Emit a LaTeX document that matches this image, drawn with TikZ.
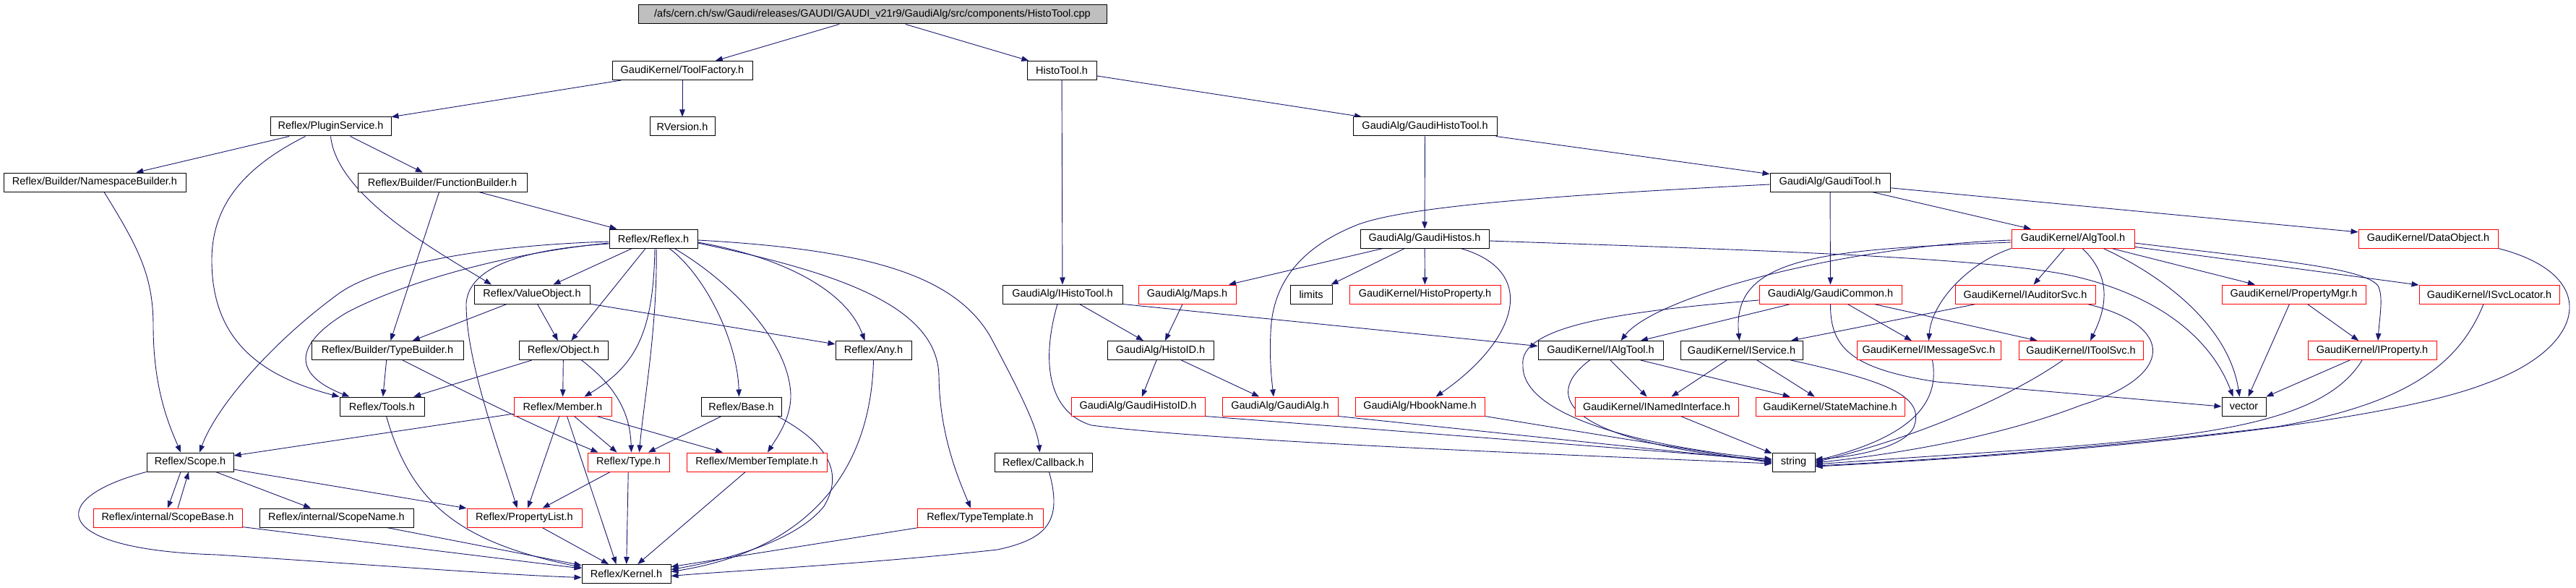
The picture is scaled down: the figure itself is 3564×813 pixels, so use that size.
\documentclass[tikz,border=0pt]{standalone}
\usepackage{fontspec}
\setmainfont{Liberation Sans}
\usetikzlibrary{arrows.meta,backgrounds}
\definecolor{eblue}{RGB}{25,25,112}
\definecolor{nred}{RGB}{255,0,0}
\definecolor{rootgray}{RGB}{191,191,191}
\tikzset{
  box/.style={draw=black, line width=1pt, fill=white, minimum height=26pt, inner sep=0pt, font=\fontsize{14.5}{16}\selectfont},
  rbox/.style={box, draw=nred},
  conn/.style={draw=eblue, line width=0.9pt, -{Triangle[length=10pt,width=7.5pt]}},
}
\begin{document}
\begin{tikzpicture}[x=1pt,y=-1pt]
\useasboundingbox (0,0) rectangle (3564,813);
% row 0
\node[box,minimum width=648,fill=rootgray] (root) at (1207,20) {/afs/cern.ch/sw/Gaudi/releases/GAUDI/GAUDI\_v21r9/GaudiAlg/src/components/HistoTool.cpp};
% row 1
\node[box,minimum width=194] (toolf) at (944,97.5) {GaudiKernel/ToolFactory.h};
\node[box,minimum width=96] (histotool) at (1469,97.5) {HistoTool.h};
% row 2
\node[box,minimum width=167] (plugin) at (457.5,175) {Reflex/PluginService.h};
\node[box,minimum width=90] (rversion) at (944,175) {RVersion.h};
\node[box,minimum width=199] (ghtool) at (1971.5,175) {GaudiAlg/GaudiHistoTool.h};
% row 3
\node[box,minimum width=252] (nsb) at (131,252) {Reflex/Builder/NamespaceBuilder.h};
\node[box,minimum width=234] (fb) at (612,252) {Reflex/Builder/FunctionBuilder.h};
\node[box,minimum width=166] (gtool) at (2532,252) {GaudiAlg/GaudiTool.h};
% row 4
\node[box,minimum width=122] (reflex) at (904,330) {Reflex/Reflex.h};
\node[box,minimum width=178] (ghistos) at (1971,330) {GaudiAlg/GaudiHistos.h};
\node[rbox,minimum width=170] (algtool) at (2868,330) {GaudiKernel/AlgTool.h};
\node[rbox,minimum width=193] (dataobj) at (3359.5,330) {GaudiKernel/DataObject.h};
% row 5
\node[box,minimum width=160] (valueobj) at (736,407) {Reflex/ValueObject.h};
\node[box,minimum width=166] (ihisto) at (1470,407) {GaudiAlg/IHistoTool.h};
\node[rbox,minimum width=135] (maps) at (1642.5,407) {GaudiAlg/Maps.h};
\node[box,minimum width=58] (limits) at (1814,407) {limits};
\node[rbox,minimum width=209] (histoprop) at (1971.5,407) {GaudiKernel/HistoProperty.h};
\node[rbox,minimum width=197] (gcommon) at (2532.5,407) {GaudiAlg/GaudiCommon.h};
\node[rbox,minimum width=194] (iauditor) at (2802,407) {GaudiKernel/IAuditorSvc.h};
\node[rbox,minimum width=199] (propmgr) at (3173.5,407) {GaudiKernel/PropertyMgr.h};
\node[rbox,minimum width=194] (isvcloc) at (3444,407) {GaudiKernel/ISvcLocator.h};
% row 6
\node[box,minimum width=210] (typebuilder) at (536,484.5) {Reflex/Builder/TypeBuilder.h};
\node[box,minimum width=123] (object) at (779.5,484.5) {Reflex/Object.h};
\node[box,minimum width=105] (any) at (1208.5,484.5) {Reflex/Any.h};
\node[box,minimum width=147] (histoid) at (1605.5,484.5) {GaudiAlg/HistoID.h};
\node[box,minimum width=173] (ialgtool) at (2214.5,484.5) {GaudiKernel/IAlgTool.h};
\node[box,minimum width=169] (iservice) at (2409.5,484.5) {GaudiKernel/IService.h};
\node[rbox,minimum width=199] (imsg) at (2668.5,484.5) {GaudiKernel/IMessageSvc.h};
\node[rbox,minimum width=172] (itoolsvc) at (2879,484.5) {GaudiKernel/IToolSvc.h};
\node[rbox,minimum width=178] (iprop) at (3282,484.5) {GaudiKernel/IProperty.h};
% row 7
\node[box,minimum width=117] (tools) at (528.5,562) {Reflex/Tools.h};
\node[rbox,minimum width=135] (member) at (778.5,562) {Reflex/Member.h};
\node[box,minimum width=111] (base) at (1025.5,562) {Reflex/Base.h};
\node[rbox,minimum width=185] (ghistoid) at (1574.5,562) {GaudiAlg/GaudiHistoID.h};
\node[rbox,minimum width=160] (galg) at (1771,562) {GaudiAlg/GaudiAlg.h};
\node[rbox,minimum width=179] (hbook) at (1964.5,562) {GaudiAlg/HbookName.h};
\node[rbox,minimum width=226] (inamed) at (2292,562) {GaudiKernel/INamedInterface.h};
\node[rbox,minimum width=206] (statem) at (2532,562) {GaudiKernel/StateMachine.h};
\node[box,minimum width=61] (vector) at (3104.5,562) {vector};
% row 8
\node[box,minimum width=120] (scope) at (263,639) {Reflex/Scope.h};
\node[rbox,minimum width=113] (type) at (869.5,639) {Reflex/Type.h};
\node[rbox,minimum width=194] (membertemp) at (1047,639) {Reflex/MemberTemplate.h};
\node[box,minimum width=135] (callback) at (1443.5,639) {Reflex/Callback.h};
\node[box,minimum width=59] (string) at (2481.5,639) {string};
% row 9
\node[rbox,minimum width=206] (scopebase) at (232,716) {Reflex/internal/ScopeBase.h};
\node[box,minimum width=213] (scopename) at (465.5,716) {Reflex/internal/ScopeName.h};
\node[rbox,minimum width=159] (proplist) at (725.5,716) {Reflex/PropertyList.h};
\node[rbox,minimum width=174] (typetemp) at (1356,716) {Reflex/TypeTemplate.h};
% row 10
\node[box,minimum width=123] (kernel) at (866.5,793.5) {Reflex/Kernel.h};

\begin{scope}[on background layer]
% ---- top
\draw[conn] (root) -- (toolf);
\draw[conn] (root) -- (histotool);
\draw[conn] (toolf) -- (plugin);
\draw[conn] (toolf) -- (rversion);
\draw[conn] (histotool) -- (ihisto);
\draw[conn] (histotool) -- (ghtool);
% ---- plugin service
\draw[conn] (plugin) -- (nsb);
\draw[conn] (plugin) -- (fb);
\draw[conn] (plugin.south) .. controls (466,270) and (600,345) .. ([xshift=-56pt]valueobj.north);
\draw[conn] ([xshift=-35pt]plugin.south) .. controls (330,235) and (293,290) .. (293,360) .. controls (293,470) and (360,520) .. (tools.north west);
\draw[conn] ([xshift=13pt]nsb.south) .. controls (190,340) and (212,380) .. (212,450) .. controls (212,540) and (235,590) .. ([xshift=-13pt]scope.north);
\draw[conn] (fb) -- (reflex);
\draw[conn] (fb) -- (typebuilder);
% ---- reflex
\draw[conn] (reflex) -- (valueobj);
\draw[conn] (reflex) -- (object);
\draw[conn] ([xshift=2pt]reflex.south) .. controls (904,460) and (880,505) .. ([xshift=30pt]member.north);
\draw[conn] ([xshift=4pt]reflex.south) .. controls (910,450) and (890,560) .. ([xshift=15pt]type.north);
\draw[conn] ([xshift=22pt]reflex.south) .. controls (975,380) and (1020,470) .. ([xshift=-3pt]base.north);
\draw[conn] ([xshift=29pt]reflex.south) .. controls (1020,395) and (1095,480) .. (1094,550) .. controls (1093,580) and (1075,605) .. ([xshift=15pt]membertemp.north);
\draw[conn] ([yshift=-5pt]reflex.east) .. controls (1080,355) and (1170,400) .. ([xshift=-12pt]any.north);
\draw[conn] ([yshift=-6pt]reflex.east) .. controls (1150,375) and (1297,420) .. (1299,520) .. controls (1300,600) and (1325,660) .. ([xshift=-13pt]typetemp.north);
\draw[conn] ([yshift=-2pt]reflex.east) .. controls (1200,345) and (1320,380) .. (1370,465) .. controls (1410,540) and (1435,590) .. ([xshift=-5pt]callback.north);
\draw[conn] ([yshift=-4pt]reflex.west) .. controls (650,340) and (520,370) .. (470,405) .. controls (380,470) and (300,560) .. ([xshift=13pt]scope.north);
\draw[conn] ([yshift=-6pt]reflex.west) .. controls (700,350) and (560,390) .. (480,432) .. controls (400,480) and (410,520) .. ([xshift=-45pt]tools.north);
\draw[conn] ([yshift=-7pt]reflex.west) .. controls (720,345) and (648,370) .. (645,420) .. controls (645,500) and (690,620) .. ([xshift=-10pt]proplist.north);
% ---- value object / object / type builder
\draw[conn] (valueobj) -- (typebuilder);
\draw[conn] (valueobj) -- (object);
\draw[conn] (valueobj) -- (any);
\draw[conn] (object) -- (tools);
\draw[conn] (object) -- (member);
\draw[conn] ([xshift=25pt]object.south) .. controls (860,540) and (872,580) .. ([xshift=4pt]type.north);
\draw[conn] (typebuilder) -- (tools);
\draw[conn] ([xshift=21pt]typebuilder.south) .. controls (640,540) and (740,590) .. ([xshift=-42pt]type.north);
\draw[conn] ([xshift=6pt]tools.south) .. controls (570,700) and (640,750) .. ([yshift=9pt]kernel.west);
% ---- member
\draw[conn] (member) -- (scope);
\draw[conn] (member) -- (type);
\draw[conn] (member) -- (proplist);
\draw[conn] ([xshift=6pt]member.south) -- ([xshift=-14pt]kernel.north);
\draw[conn] (member) -- (membertemp);
% ---- base / any / callback / templates
\draw[conn] (base) -- (type);
\draw[conn] ([xshift=50pt]base.south) .. controls (1140,610) and (1170,650) .. (1140,700) .. controls (1100,750) and (1000,775) .. ([yshift=6pt]kernel.east);
\draw[conn] (any.south) .. controls (1205,650) and (1120,760) .. ([yshift=3pt]kernel.east);
\draw[conn] ([xshift=8pt]callback.south) .. controls (1470,720) and (1450,745) .. (1380,760) .. controls (1200,780) and (1000,790) .. ([yshift=-3pt]kernel.east);
\draw[conn] (membertemp) -- (kernel);
\draw[conn] (typetemp) -- (kernel);
% ---- scope
\draw[conn] ([xshift=-13pt]scope.south) -- (scopebase.north);
\draw[conn] ([xshift=14pt]scopebase.north) -- ([xshift=-2pt]scope.south);
\draw[conn] (scope) -- (scopename);
\draw[conn] (scope) -- (proplist);
\draw[conn] (scope.south west) .. controls (60,690) and (70,760) .. (300,767) .. controls (500,780) and (700,795) .. ([yshift=-5pt]kernel.west);
\draw[conn] (scopebase) -- (kernel);
\draw[conn] (scopename) -- (kernel);
\draw[conn] (proplist) -- (kernel);
\draw[conn] (type) -- (proplist);
\draw[conn] (type) -- (kernel);
% ---- Gaudi histo side
\draw[conn] (ghtool) -- (ghistos);
\draw[conn] (ghtool) -- (gtool);
\draw[conn] (ghistos) -- (maps);
\draw[conn] (ghistos) -- (limits);
\draw[conn] (ghistos) -- (histoprop);
\draw[conn] ([xshift=50pt]ghistos.south) .. controls (2130,375) and (2100,470) .. ([xshift=22pt]hbook.north);
\draw[conn] ([yshift=-3pt]ghistos.east) .. controls (2400,345) and (2750,355) .. (2870,382) .. controls (2990,410) and (3060,470) .. ([xshift=-15pt]vector.north);
\draw[conn] ([yshift=-3pt]gtool.west) .. controls (2150,270) and (1950,285) .. (1880,310) .. controls (1790,345) and (1760,400) .. (1758,460) .. controls (1756,500) and (1760,530) .. ([xshift=-9pt]galg.north);
\draw[conn] (gtool) -- (gcommon);
\draw[conn] (gtool) -- (algtool);
\draw[conn] (gtool) -- (dataobj);
\draw[conn] (ihisto) -- (histoid);
\draw[conn] (ihisto.south east) -- ([yshift=6pt]ialgtool.west);
\draw[conn] ([xshift=-7pt]ihisto.south) .. controls (1440,500) and (1450,570) .. (1510,588) .. controls (1700,612) and (2200,630) .. ([yshift=-2pt]string.west);
\draw[conn] (maps) -- (histoid);
\draw[conn] (histoid) -- (ghistoid);
\draw[conn] (histoid) -- (galg);
\draw[conn] (ghistoid.south east) -- ([yshift=3pt]string.west);
\draw[conn] (galg.south east) -- ([yshift=1pt]string.west);
\draw[conn] (hbook.south east) -- ([yshift=-1pt]string.west);
% ---- gaudi common
\draw[conn] (gcommon) -- (ialgtool);
\draw[conn] (gcommon) -- (imsg);
\draw[conn] (gcommon) -- (itoolsvc);
\draw[conn] (gcommon.south) .. controls (2532,480) and (2560,510) .. (2680,528) -- (vector.west);
\draw[conn] ([yshift=-8pt]gcommon.west) .. controls (2250,430) and (2100,450) .. (2107,505) .. controls (2105,570) and (2250,615) .. ([yshift=4pt]string.west);
% ---- alg tool
\draw[conn] ([yshift=-2pt]algtool.west) .. controls (2550,340) and (2290,410) .. ([xshift=28pt]ialgtool.north);
\draw[conn] ([yshift=-5pt]algtool.west) .. controls (2520,345) and (2395,355) .. ([xshift=-3pt]iservice.north);
\draw[conn] (algtool.south west) .. controls (2720,365) and (2672,420) .. (imsg.north);
\draw[conn] (algtool) -- (iauditor);
\draw[conn] ([xshift=13pt]algtool.south) .. controls (2925,385) and (2912,430) .. ([xshift=13pt]itoolsvc.north);
\draw[conn] ([xshift=42pt]algtool.south) .. controls (3010,390) and (3085,460) .. ([xshift=-6pt]vector.north);
\draw[conn] (algtool) -- (propmgr);
\draw[conn] ([yshift=-6pt]algtool.east) .. controls (3150,360) and (3270,370) .. (3290,395) .. controls (3298,410) and (3292,440) .. ([xshift=8pt]iprop.north);
\draw[conn] (algtool) -- (isvcloc);
\draw[conn] (iauditor) -- (iservice);
\draw[conn] ([xshift=86pt]iauditor.south) .. controls (3010,450) and (3010,520) .. (2880,560) .. controls (2750,610) and (2600,630) .. ([yshift=-1pt]string.east);
% ---- interfaces
\draw[conn] (ialgtool) -- (inamed);
\draw[conn] (ialgtool) -- (statem);
\draw[conn] ([xshift=-15pt]ialgtool.south) .. controls (2130,550) and (2170,610) .. ([yshift=1pt]string.west);
\draw[conn] (iservice) -- (inamed);
\draw[conn] (iservice) -- (statem);
\draw[conn] ([xshift=68pt]iservice.south) .. controls (2600,525) and (2665,545) .. (2648,590) .. controls (2635,620) and (2560,632) .. ([yshift=4pt]string.east);
\draw[conn] ([xshift=5pt]imsg.south) .. controls (2685,560) and (2640,605) .. ([yshift=2pt]string.east);
\draw[conn] ([xshift=-25pt]itoolsvc.south) .. controls (2780,550) and (2650,605) .. (string.east);
\draw[conn] (inamed) -- (string);
\draw[conn] (propmgr) -- (vector);
\draw[conn] (propmgr) -- (iprop);
\draw[conn] (iprop) -- (vector);
\draw[conn] ([xshift=-14pt]iprop.south) .. controls (3200,610) and (2950,610) .. ([yshift=-3pt]string.east);
\draw[conn] ([xshift=-8pt]isvcloc.south) .. controls (3400,510) and (3320,560) .. (3150,590) .. controls (2950,615) and (2700,635) .. ([yshift=-5pt]string.east);
\draw[conn] (dataobj.south east) .. controls (3600,380) and (3580,480) .. (3440,530) .. controls (3300,585) and (2900,625) .. ([yshift=-6pt]string.east);
\end{scope}
\end{tikzpicture}
\end{document}
